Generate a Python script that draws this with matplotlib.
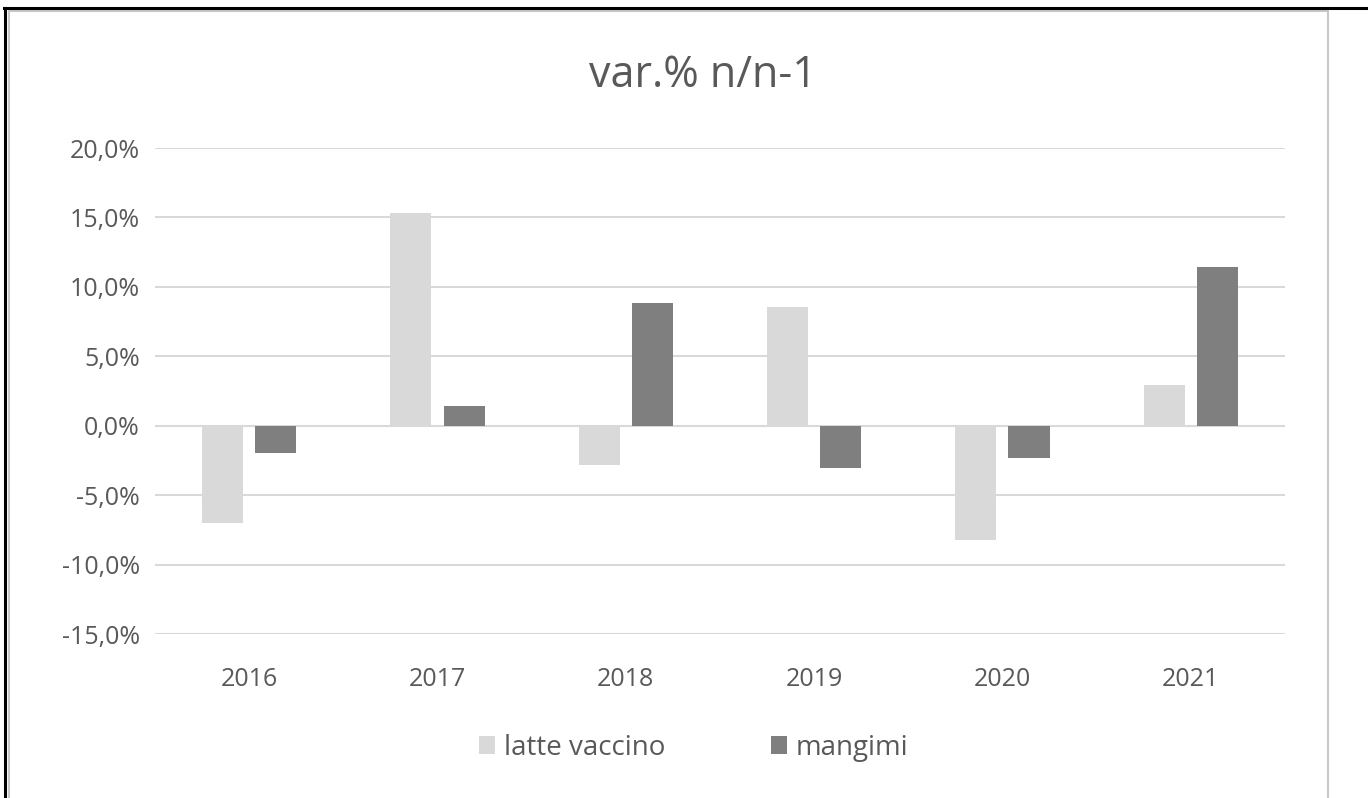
import matplotlib
matplotlib.use("Agg")
import matplotlib.pyplot as plt
from matplotlib.ticker import FuncFormatter, MultipleLocator
from matplotlib.lines import Line2D
from matplotlib.patches import Rectangle
import numpy as np

# annual change, previous year = 100
years = ["2016", "2017", "2018", "2019", "2020", "2021"]
latte_vaccino = [-7.0, 15.3, -2.8, 8.55, -8.25, 2.95]
mangimi = [-1.95, 1.45, 8.85, -3.05, -2.35, 11.4]

title = "var.% n/n-1"
series_names = ["latte vaccino", "mangimi"]

plt.rcParams["font.family"] = ["Open Sans", "DejaVu Sans"]
text_col = "#595959"

fig = plt.figure(figsize=(13.68, 7.98), dpi=100)
ax = fig.add_axes([0.1133, 0.2055, 0.826, 0.609])

x = np.arange(len(years))
w = 0.218
off = 0.141
b1 = ax.bar(x - off, latte_vaccino, w, color="#d9d9d9", label=series_names[0], zorder=3)
b2 = ax.bar(x + off, mangimi, w, color="#7f7f7f", label=series_names[1], zorder=3)

ax.set_xlim(-0.5, len(years) - 0.5)
ax.set_ylim(-15, 20)
ax.yaxis.set_major_locator(MultipleLocator(5))
ax.yaxis.set_major_formatter(FuncFormatter(lambda v, p: f"{v:.1f}%".replace(".", ",")))
ax.grid(axis="y", color="#d9d9d9", linewidth=1.5, zorder=0)
ax.set_xticks(x)
ax.set_xticklabels(years)
ax.tick_params(axis="both", length=0, labelsize=18, labelcolor=text_col)
ax.tick_params(axis="y", pad=11)
ax.tick_params(axis="x", pad=24)
for s in ax.spines.values():
    s.set_visible(False)

fig.text(0.5135, 0.905, title, ha="center", va="center", fontsize=31, color=text_col)

fig.legend(handles=[b1, b2], loc="center", bbox_to_anchor=(0.507, 0.063), ncol=2,
           frameon=False, fontsize=20, labelcolor=text_col, handlelength=0.6,
           handleheight=0.6, handletextpad=0.3, columnspacing=3.8)

# outer frame: black edge plus the light chart border
fig.add_artist(Line2D([4 / 1368, 1], [1 - 8 / 798, 1 - 8 / 798], color="black",
                      linewidth=2.2, transform=fig.transFigure))
fig.add_artist(Line2D([5 / 1368, 5 / 1368], [0, 1 - 8 / 798], color="black",
                      linewidth=2.2, transform=fig.transFigure))
fig.add_artist(Rectangle((9 / 1368, -0.02), (1328 - 9) / 1368, 1 - 11 / 798 + 0.02,
                         fill=False, edgecolor="#c8c8c8", linewidth=1.5,
                         transform=fig.transFigure))

fig.savefig("out.png", dpi=100)
plt.close(fig)
